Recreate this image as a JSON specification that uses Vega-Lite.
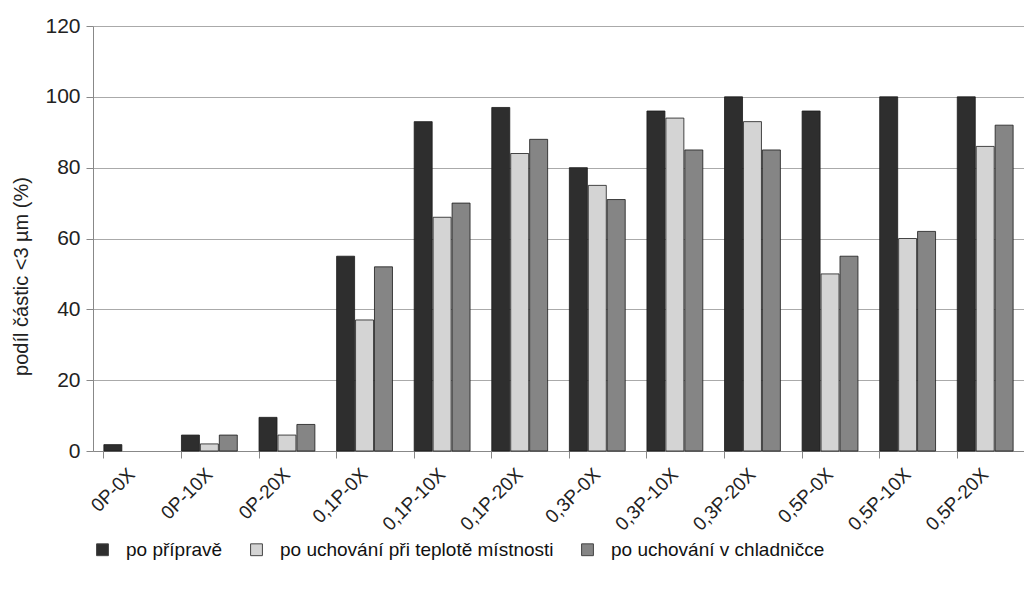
{
  "$schema": "https://vega.github.io/schema/vega-lite/v6.json",
  "width": 931,
  "height": 425,
  "autosize": {"type": "none"},
  "padding": {"left": 93, "top": 26, "right": 0, "bottom": 143},
  "background": "white",
  "config": {
    "view": {"stroke": null},
    "font": "Liberation Sans"
  },
  "data": {
    "values": [
      {"vzorek": "0P-0X", "serie": "po přípravě", "podil": 1.8},
      {"vzorek": "0P-0X", "serie": "po uchování při teplotě místnosti", "podil": 0},
      {"vzorek": "0P-0X", "serie": "po uchování v chladničce", "podil": 0},
      {"vzorek": "0P-10X", "serie": "po přípravě", "podil": 4.5},
      {"vzorek": "0P-10X", "serie": "po uchování při teplotě místnosti", "podil": 2},
      {"vzorek": "0P-10X", "serie": "po uchování v chladničce", "podil": 4.5},
      {"vzorek": "0P-20X", "serie": "po přípravě", "podil": 9.5},
      {"vzorek": "0P-20X", "serie": "po uchování při teplotě místnosti", "podil": 4.5},
      {"vzorek": "0P-20X", "serie": "po uchování v chladničce", "podil": 7.5},
      {"vzorek": "0,1P-0X", "serie": "po přípravě", "podil": 55},
      {"vzorek": "0,1P-0X", "serie": "po uchování při teplotě místnosti", "podil": 37},
      {"vzorek": "0,1P-0X", "serie": "po uchování v chladničce", "podil": 52},
      {"vzorek": "0,1P-10X", "serie": "po přípravě", "podil": 93},
      {"vzorek": "0,1P-10X", "serie": "po uchování při teplotě místnosti", "podil": 66},
      {"vzorek": "0,1P-10X", "serie": "po uchování v chladničce", "podil": 70},
      {"vzorek": "0,1P-20X", "serie": "po přípravě", "podil": 97},
      {"vzorek": "0,1P-20X", "serie": "po uchování při teplotě místnosti", "podil": 84},
      {"vzorek": "0,1P-20X", "serie": "po uchování v chladničce", "podil": 88},
      {"vzorek": "0,3P-0X", "serie": "po přípravě", "podil": 80},
      {"vzorek": "0,3P-0X", "serie": "po uchování při teplotě místnosti", "podil": 75},
      {"vzorek": "0,3P-0X", "serie": "po uchování v chladničce", "podil": 71},
      {"vzorek": "0,3P-10X", "serie": "po přípravě", "podil": 96},
      {"vzorek": "0,3P-10X", "serie": "po uchování při teplotě místnosti", "podil": 94},
      {"vzorek": "0,3P-10X", "serie": "po uchování v chladničce", "podil": 85},
      {"vzorek": "0,3P-20X", "serie": "po přípravě", "podil": 100},
      {"vzorek": "0,3P-20X", "serie": "po uchování při teplotě místnosti", "podil": 93},
      {"vzorek": "0,3P-20X", "serie": "po uchování v chladničce", "podil": 85},
      {"vzorek": "0,5P-0X", "serie": "po přípravě", "podil": 96},
      {"vzorek": "0,5P-0X", "serie": "po uchování při teplotě místnosti", "podil": 50},
      {"vzorek": "0,5P-0X", "serie": "po uchování v chladničce", "podil": 55},
      {"vzorek": "0,5P-10X", "serie": "po přípravě", "podil": 100},
      {"vzorek": "0,5P-10X", "serie": "po uchování při teplotě místnosti", "podil": 60},
      {"vzorek": "0,5P-10X", "serie": "po uchování v chladničce", "podil": 62},
      {"vzorek": "0,5P-20X", "serie": "po přípravě", "podil": 100},
      {"vzorek": "0,5P-20X", "serie": "po uchování při teplotě místnosti", "podil": 86},
      {"vzorek": "0,5P-20X", "serie": "po uchování v chladničce", "podil": 92}
    ]
  },
  "mark": {"type": "bar", "stroke": "#1a1a1a", "strokeWidth": 0.8},
  "encoding": {
    "x": {
      "field": "vzorek",
      "type": "nominal",
      "sort": null,
      "scale": {"paddingInner": 0.28, "paddingOuter": 0.14},
      "axis": {
        "title": null,
        "labelAngle": -45,
        "labelAlign": "right",
        "labelBaseline": "middle",
        "labelFontSize": 19,
        "labelFont": "Liberation Sans",
        "labelColor": "#222",
        "labelPadding": 13,
        "bandPosition": 0,
        "domainColor": "#888",
        "tickColor": "#888",
        "tickSize": 7,
        "grid": false
      }
    },
    "xOffset": {
      "field": "serie",
      "type": "nominal",
      "sort": ["po přípravě", "po uchování při teplotě místnosti", "po uchování v chladničce"],
      "scale": {"paddingInner": 0.05}
    },
    "y": {
      "field": "podil",
      "type": "quantitative",
      "scale": {"domain": [0, 120]},
      "axis": {
        "title": "podíl částic <3 µm (%)",
        "titleFontSize": 20,
        "titleFontWeight": "normal",
        "titleColor": "#222",
        "titleX": -62,
        "titleY": 250,
        "titleAlign": "center",
        "values": [0, 20, 40, 60, 80, 100, 120],
        "labelFontSize": 21,
        "labelColor": "#222",
        "labelPadding": 6,
        "gridColor": "#aaa",
        "gridWidth": 1.2,
        "domainColor": "#888",
        "tickColor": "#888",
        "tickSize": 7
      }
    },
    "strokeOpacity": {
      "condition": {"test": "datum.podil > 0", "value": 1},
      "value": 0
    },
    "color": {
      "field": "serie",
      "type": "nominal",
      "sort": ["po přípravě", "po uchování při teplotě místnosti", "po uchování v chladničce"],
      "scale": {
        "domain": ["po přípravě", "po uchování při teplotě místnosti", "po uchování v chladničce"],
        "range": ["#2e2e2e", "#d4d4d4", "#858585"]
      },
      "legend": {
        "title": null,
        "orient": "none",
        "direction": "horizontal",
        "legendX": 0,
        "legendY": 514,
        "symbolType": "square",
        "symbolSize": 140,
        "symbolStrokeColor": "#444",
        "symbolStrokeWidth": 1,
        "labelFontSize": 19,
        "labelFont": "Liberation Sans",
        "labelColor": "#111",
        "labelOffset": 14,
        "columnPadding": 24,
        "labelLimit": 400
      }
    }
  }
}
